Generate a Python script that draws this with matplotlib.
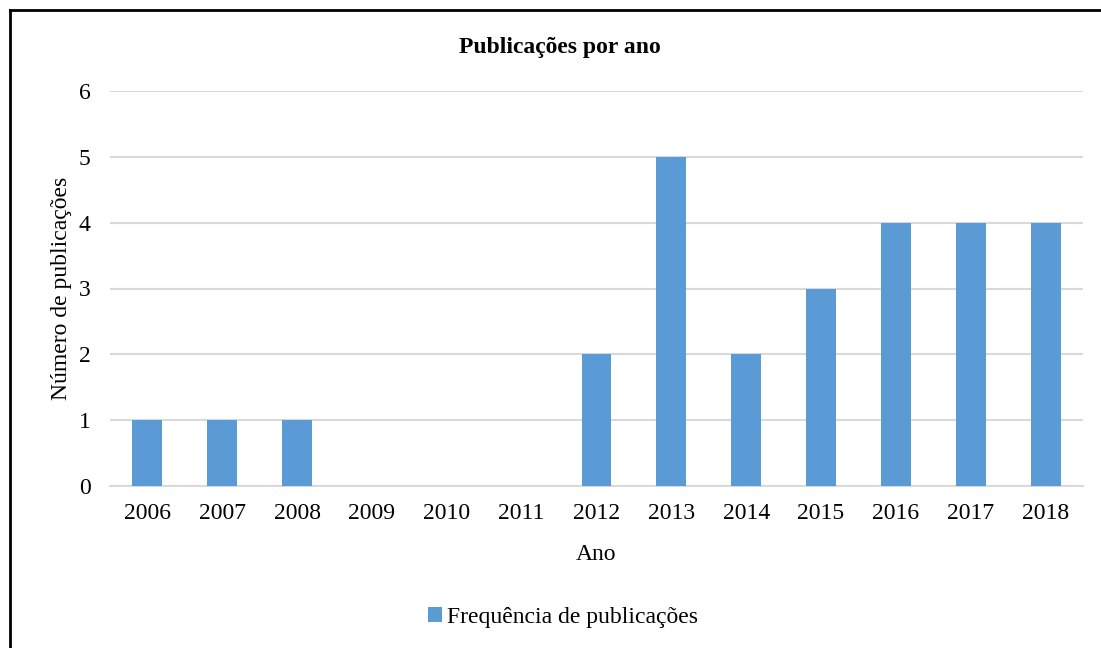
import matplotlib
matplotlib.use("Agg")
import matplotlib.pyplot as plt
from matplotlib.lines import Line2D

years = ["2006", "2007", "2008", "2009", "2010", "2011", "2012",
         "2013", "2014", "2015", "2016", "2017", "2018"]
counts = [1, 1, 1, 0, 0, 0, 2, 5, 2, 3, 4, 4, 4]
yticks = [0, 1, 2, 3, 4, 5, 6]

plt.rcParams['font.family'] = ['Liberation Serif', 'DejaVu Serif']

W, H = 1101, 648
fig = plt.figure(figsize=(W / 100, H / 100), dpi=100)
ax = fig.add_axes([110 / W, 1 - 486 / H, (1083 - 110) / W, (486 - 91) / H])

x = list(range(len(years)))
ax.bar(x, counts, width=0.4, color="#5B9BD5", zorder=3,
       label="Frequência de publicações")
ax.set_xlim(-0.5, len(years) - 0.5)
ax.set_ylim(0, 6)
ax.set_yticks(yticks)
ax.set_xticks(x)
ax.set_xticklabels(years)
ax.tick_params(axis="both", length=0, labelsize=17, colors="black")
ax.tick_params(axis="y", pad=14)
ax.tick_params(axis="x", pad=12)
ax.grid(axis="y", color="#D9D9D9", linewidth=1.5, zorder=0)
for s in ["top", "right", "left"]:
    ax.spines[s].set_visible(False)
ax.spines["bottom"].set_color("#D9D9D9")
ax.spines["bottom"].set_linewidth(1.5)

ax.set_xlabel("Ano", fontsize=17, labelpad=15)
ax.set_ylabel("Número de publicações", fontsize=17)
ax.yaxis.set_label_coords((72 - 110) / 973, 0.5)

fig.text(560 / W, 1 - 47 / H, "Publicações por ano", fontsize=17,
         fontweight="bold", ha="center", va="center")

fig.legend(loc="center", bbox_to_anchor=(563 / W, 1 - 617 / H),
           frameon=False, fontsize=17, handlelength=0.6,
           handleheight=0.6, handletextpad=0.2)

# border (left and top visible)
fig.add_artist(Line2D([9.5 / W, 9.5 / W], [0, 1 - 10 / H], color="black",
                      linewidth=2, transform=fig.transFigure))
fig.add_artist(Line2D([9.5 / W, 1], [1 - 10 / H, 1 - 10 / H], color="black",
                      linewidth=2, transform=fig.transFigure))

fig.savefig("out.png", dpi=100, facecolor="white")
